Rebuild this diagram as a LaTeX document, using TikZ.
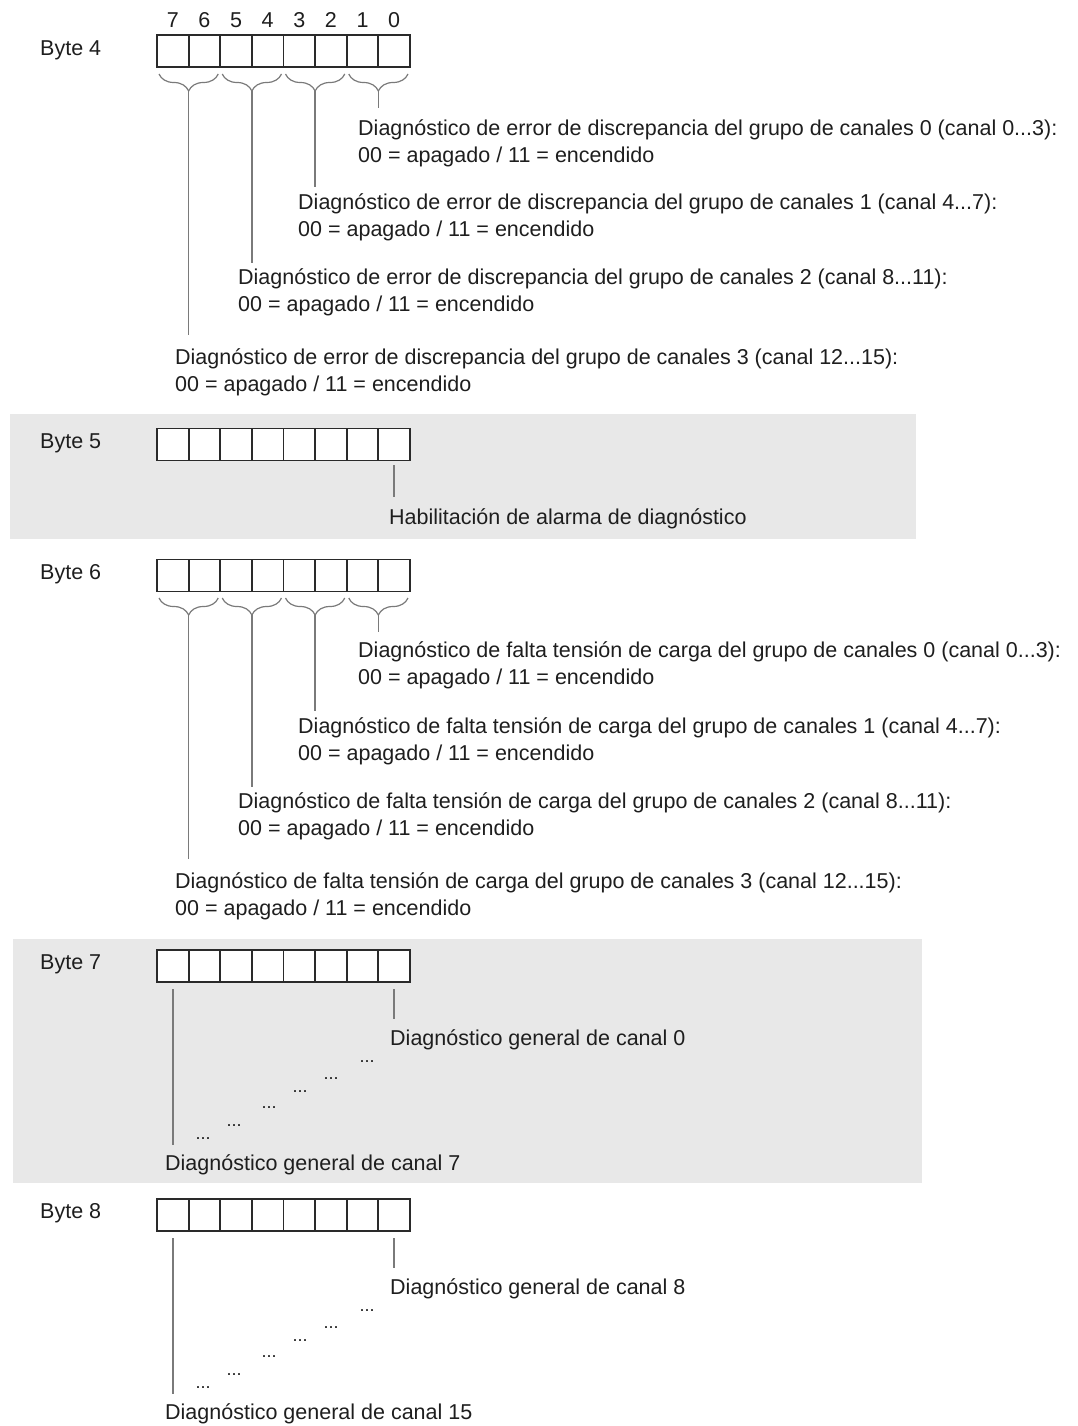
\documentclass[tikz,border=0pt]{standalone}
\usepackage{fontspec}
\setmainfont{Liberation Sans}
\usepackage{tikz}
\usetikzlibrary{decorations.pathreplacing}

\definecolor{bandgray}{HTML}{E8E8E8}
\definecolor{inkgray}{HTML}{1E1E1E}
\definecolor{boxline}{HTML}{2A2A2A}
\definecolor{stemgray}{HTML}{7A7A7A}

\newcommand{\onoff}{00 = apagado / 11 = encendido}

\tikzset{
  cell/.style={draw=boxline, fill=white, line width=1.8pt, minimum width=31.625pt, minimum height=32pt, inner sep=0pt},
  bytelbl/.style={anchor=west, inner sep=0pt},
  bitnum/.style={inner sep=0pt},
  desc/.style={anchor=base west, align=left, inner sep=0pt},
  dots/.style={anchor=base, inner sep=0pt, font=\fontsize{18}{22}\selectfont},
  stem/.style={draw=stemgray, line width=1.3pt},
  grp/.style={draw=stemgray, line width=1.2pt, decorate, decoration={brace, mirror, amplitude=17pt, aspect=0.5}},
  band/.style={fill=bandgray, draw=none}
}

\begin{document}
\begin{tikzpicture}[x=1pt,y=-1pt, every node/.style={font=\fontsize{21.5}{27}\selectfont, text=inkgray}]
	\useasboundingbox (0,0) rectangle (1078,1426);
	\fill[band] (10,414) rectangle (916,539);
	\fill[band] (13,939) rectangle (922,1183);

	% Byte 4
	\node[bytelbl] (l4) at (40,50) {Byte 4};
	\foreach \i in {0,...,7}{
		\node[cell] (b4-\i) at ({172.8+31.625*(7-\i)},51) {};
		\node[bitnum] (n\i) at ({172.8+31.625*(7-\i)},20) {\i};
	}
	\foreach \g/\e in {0/108,1/187,2/263,3/335}{
		\draw[grp] ({159+63.25*(3-\g)},74) -- ({218.25+63.25*(3-\g)},74);
		\coordinate (t4-\g) at ({188.6+63.25*(3-\g)},90);
		\coordinate (e4-\g) at ({188.6+63.25*(3-\g)},\e);
		\draw[stem] (t4-\g) -- (e4-\g);
	}
	% base = last line
	\node[desc] (d4-0) at (358,162) {Diagnóstico de error de discrepancia del grupo de canales 0 (canal 0...3):\\\onoff};
	\node[desc] (d4-1) at (298,236) {Diagnóstico de error de discrepancia del grupo de canales 1 (canal 4...7):\\\onoff};
	\node[desc] (d4-2) at (238,311) {Diagnóstico de error de discrepancia del grupo de canales 2 (canal 8...11):\\\onoff};
	\node[desc] (d4-3) at (175,391) {Diagnóstico de error de discrepancia del grupo de canales 3 (canal 12...15):\\\onoff};

	% Byte 5
	\node[bytelbl] (l5) at (40,443) {Byte 5};
	\foreach \i in {0,...,7}
		\node[cell] (b5-\i) at ({172.8+31.625*(7-\i)},444.5) {};
	\coordinate (t5) at (394,465);
	\coordinate (e5) at (394,497);
	\draw[stem] (t5) -- (e5);
	\node[desc] (d5) at (389,524) {Habilitación de alarma de diagnóstico};

	% Byte 6
	\node[bytelbl] (l6) at (40,574) {Byte 6};
	\foreach \i in {0,...,7}
		\node[cell] (b6-\i) at ({172.8+31.625*(7-\i)},575.5) {};
	\foreach \g/\e in {0/632,1/711,2/787,3/859}{
		\draw[grp] ({159+63.25*(3-\g)},598) -- ({218.25+63.25*(3-\g)},598);
		\coordinate (t6-\g) at ({188.6+63.25*(3-\g)},614);
		\coordinate (e6-\g) at ({188.6+63.25*(3-\g)},\e);
		\draw[stem] (t6-\g) -- (e6-\g);
	}
	\node[desc] (d6-0) at (358,684) {Diagnóstico de falta tensión de carga del grupo de canales 0 (canal 0...3):\\\onoff};
	\node[desc] (d6-1) at (298,760) {Diagnóstico de falta tensión de carga del grupo de canales 1 (canal 4...7):\\\onoff};
	\node[desc] (d6-2) at (238,835) {Diagnóstico de falta tensión de carga del grupo de canales 2 (canal 8...11):\\\onoff};
	\node[desc] (d6-3) at (175,915) {Diagnóstico de falta tensión de carga del grupo de canales 3 (canal 12...15):\\\onoff};

	% Byte 7
	\node[bytelbl] (l7) at (40,964) {Byte 7};
	\foreach \i in {0,...,7}
		\node[cell] (b7-\i) at ({172.8+31.625*(7-\i)},966) {};
	\coordinate (t7-0) at (394,989);
	\coordinate (e7-0) at (394,1019);
	\coordinate (t7-7) at (173,989);
	\coordinate (e7-7) at (173,1145);
	\draw[stem] (t7-0) -- (e7-0);
	\draw[stem] (t7-7) -- (e7-7);
	\node[desc] (d7-0) at (390,1045) {Diagnóstico general de canal 0};
	\node[desc] (d7-7) at (165,1170) {Diagnóstico general de canal 7};
	\foreach \x/\y [count=\k] in {367/1062,331/1079,300/1092,269/1108,234/1126,203/1139}
		\node[dots] (p7-\k) at (\x,\y) {...};

	% Byte 8
	\node[bytelbl] (l8) at (40,1213) {Byte 8};
	\foreach \i in {0,...,7}
		\node[cell] (b8-\i) at ({172.8+31.625*(7-\i)},1215) {};
	\coordinate (t8-0) at (394,1238);
	\coordinate (e8-0) at (394,1268);
	\coordinate (t8-7) at (173,1238);
	\coordinate (e8-7) at (173,1394);
	\draw[stem] (t8-0) -- (e8-0);
	\draw[stem] (t8-7) -- (e8-7);
	\node[desc] (d8-0) at (390,1294) {Diagnóstico general de canal 8};
	\node[desc] (d8-7) at (165,1419) {Diagnóstico general de canal 15};
	\foreach \x/\y [count=\k] in {367/1311,331/1328,300/1341,269/1357,234/1375,203/1388}
		\node[dots] (p8-\k) at (\x,\y) {...};
\end{tikzpicture}
\end{document}
